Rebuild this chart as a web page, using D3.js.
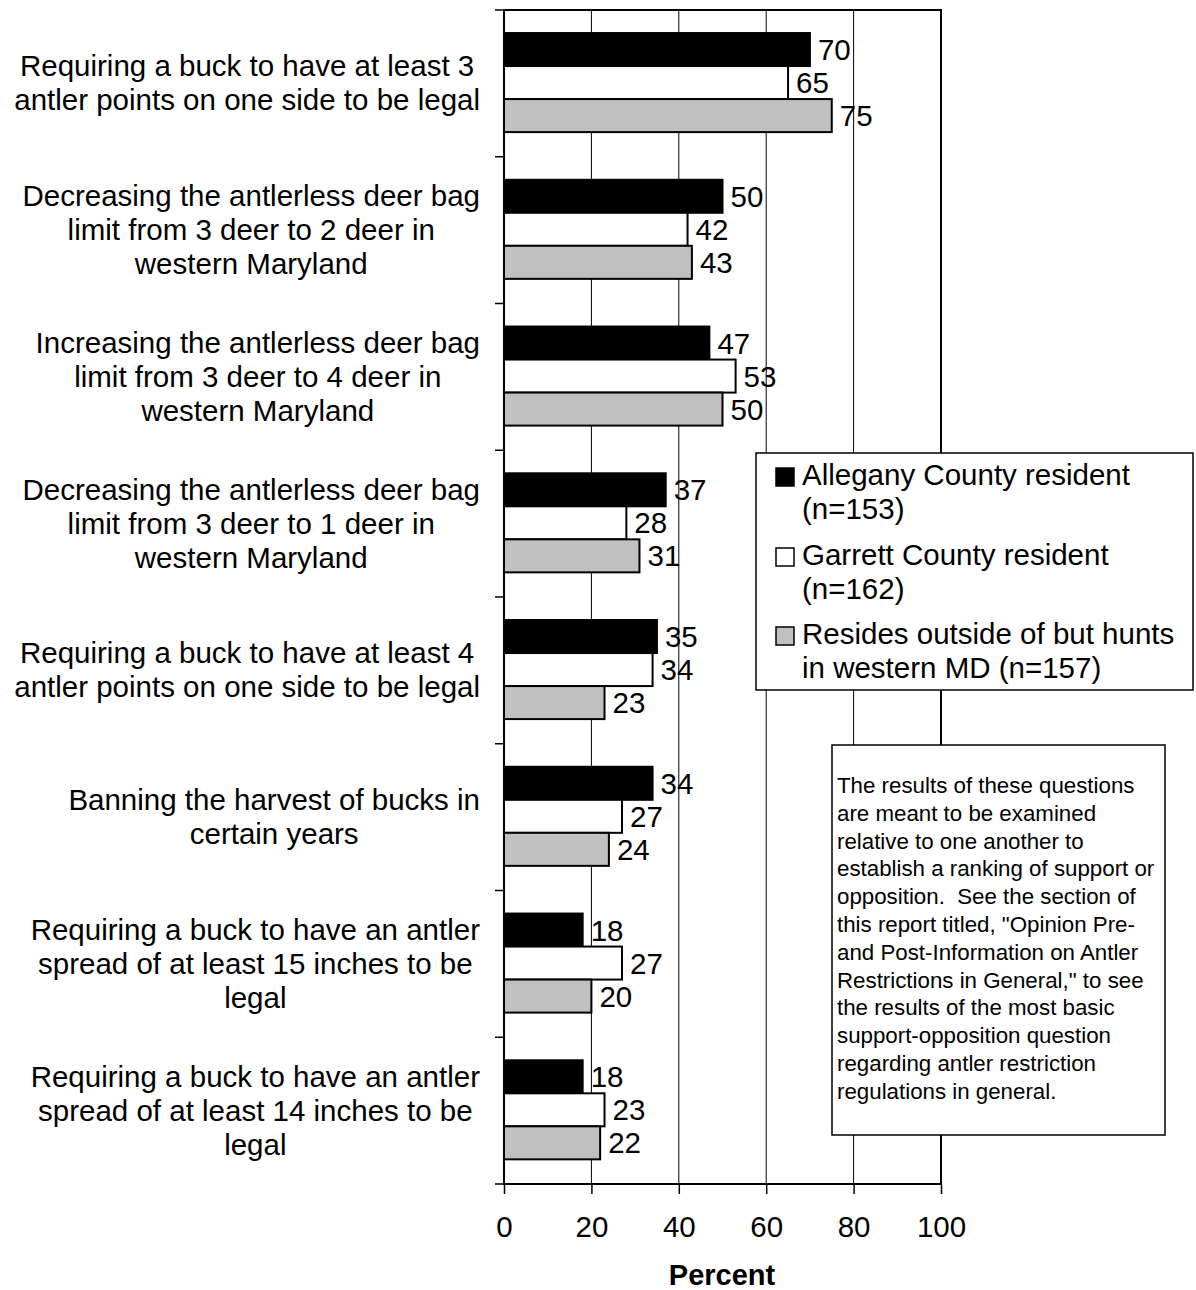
<!DOCTYPE html>
<html>
<head>
    <meta charset="utf-8">
    <title>Antler restriction options</title>
    <script src="https://d3js.org/d3.v7.min.js"></script>
    <style>
        body { margin: 0; background: #fff; }
        text { font-family: "Liberation Sans", Arial, sans-serif; fill: #000; }
    </style>
</head>
<body>
    <script>
        // categories (one entry per line of the label)
        const categories = [
            ["Requiring a buck to have at least 3", "antler points on one side to be legal"],
            ["Decreasing the antlerless deer bag", "limit from 3 deer to 2 deer in", "western Maryland"],
            ["Increasing the antlerless deer bag", "limit from 3 deer to 4 deer in", "western Maryland"],
            ["Decreasing the antlerless deer bag", "limit from 3 deer to 1 deer in", "western Maryland"],
            ["Requiring a buck to have at least 4", "antler points on one side to be legal"],
            ["Banning the harvest of bucks in", "certain years"],
            ["Requiring a buck to have an antler", "spread of at least 15 inches to be", "legal"],
            ["Requiring a buck to have an antler", "spread of at least 14 inches to be", "legal"]
        ];
        const seriesNames = [
            ["Allegany County resident", "(n=153)"],
            ["Garrett County resident", "(n=162)"],
            ["Resides outside of but hunts", "in western MD (n=157)"]
        ];
        const allegany = [70, 50, 47, 37, 35, 34, 18, 18];
        const garrett = [65, 42, 53, 28, 34, 27, 27, 23];
        const outside = [75, 43, 50, 31, 23, 24, 20, 22];
        const xTicks = [0, 20, 40, 60, 80, 100];
        const noteLines = [
            "The results of these questions",
            "are meant to be examined",
            "relative to one another to",
            "establish a ranking of support or",
            "opposition.  See the section of",
            "this report titled, \"Opinion Pre-",
            "and Post-Information on Antler",
            "Restrictions in General,\" to see",
            "the results of the most basic",
            "support-opposition question",
            "regarding antler restriction",
            "regulations in general."
        ];

        const colors = ["#000000", "#ffffff", "#c0c0c0"];
        const series = [allegany, garrett, outside];

        const width = 1196;
        const height = 1290;
        const plot = { left: 504, right: 941, top: 10, bottom: 1184 };
        const fs = 29.5;

        const svg = d3.select("body").append("svg")
            .attr("width", width)
            .attr("height", height);

        const x = d3.scaleLinear()
            .domain([0, 100])
            .range([plot.left, plot.right]);

        const y = d3.scaleBand()
            .domain(d3.range(categories.length))
            .range([plot.top, plot.bottom]);

        const inner = d3.scaleBand()
            .domain(d3.range(series.length))
            .range([y.bandwidth() * 0.157, y.bandwidth() * 0.832]);

        // gridlines
        svg.append("g")
            .selectAll("line")
            .data(xTicks.slice(1, -1))
            .join("line")
            .attr("x1", d => x(d)).attr("x2", d => x(d))
            .attr("y1", plot.top).attr("y2", plot.bottom)
            .attr("stroke", "#000")
            .attr("stroke-width", 1);

        // bars
        const groups = svg.append("g")
            .selectAll("g")
            .data(categories)
            .join("g")
            .attr("transform", (d, i) => `translate(0,${y(i)})`);

        groups.each(function (c, i) {
            const g = d3.select(this);
            series.forEach((s, k) => {
                g.append("rect")
                    .attr("x", x(0))
                    .attr("y", inner(k))
                    .attr("width", x(s[i]) - x(0))
                    .attr("height", inner.bandwidth())
                    .attr("fill", colors[k])
                    .attr("stroke", "#000")
                    .attr("stroke-width", 2);
                g.append("text")
                    .attr("x", x(s[i]) + 8)
                    .attr("y", inner(k) + inner.bandwidth() / 2)
                    .attr("dy", "0.36em")
                    .attr("font-size", fs)
                    .text(s[i]);
            });
        });

        // frame
        svg.append("rect")
            .attr("x", plot.left).attr("y", plot.top)
            .attr("width", plot.right - plot.left)
            .attr("height", plot.bottom - plot.top)
            .attr("fill", "none")
            .attr("stroke", "#000")
            .attr("stroke-width", 2);

        // x axis
        const xAxis = svg.append("g")
            .attr("transform", `translate(0,${plot.bottom})`)
            .call(d3.axisBottom(x).tickValues(xTicks).tickSize(10).tickPadding(22));
        xAxis.select(".domain").remove();
        xAxis.selectAll("line").attr("stroke", "#000").attr("stroke-width", 1.5);
        xAxis.selectAll("text")
            .attr("font-size", fs)
            .attr("font-family", "'Liberation Sans', Arial, sans-serif");

        // y axis ticks at category boundaries
        const bounds = d3.range(categories.length + 1).map(i => plot.top + i * y.step());
        svg.append("g")
            .selectAll("line")
            .data(bounds)
            .join("line")
            .attr("x1", plot.left - 9).attr("x2", plot.left)
            .attr("y1", d => d).attr("y2", d => d)
            .attr("stroke", "#000")
            .attr("stroke-width", 1.5);

        // category labels: centered lines, block right edge at 480
        const lineH = 34;
        categories.forEach((lines, i) => {
            const cy = y(i) + y.bandwidth() / 2;
            const t = svg.append("text")
                .attr("font-size", fs)
                .attr("text-anchor", "middle");
            lines.forEach((ln, j) => {
                t.append("tspan")
                    .attr("y", cy - (lines.length - 1) * lineH / 2 + j * lineH + 10)
                    .text(ln);
            });
            let maxW = 0;
            t.selectAll("tspan").each(function () {
                maxW = Math.max(maxW, this.getComputedTextLength());
            });
            t.selectAll("tspan").attr("x", 480 - maxW / 2);
        });

        // axis title
        svg.append("text")
            .attr("x", 722).attr("y", 1285)
            .attr("text-anchor", "middle")
            .attr("font-size", 29)
            .attr("font-weight", "bold")
            .text("Percent");

        // legend
        const legend = svg.append("g");
        legend.append("rect")
            .attr("x", 756).attr("y", 453)
            .attr("width", 437).attr("height", 237)
            .attr("fill", "#fff")
            .attr("stroke", "#000")
            .attr("stroke-width", 1.5);
        const itemY = [485, 565, 644];
        seriesNames.forEach((lines, k) => {
            legend.append("rect")
                .attr("x", 776).attr("y", itemY[k] - 17)
                .attr("width", 18).attr("height", 18)
                .attr("fill", colors[k])
                .attr("stroke", "#000")
                .attr("stroke-width", 1.5);
            const t = legend.append("text").attr("font-size", fs);
            lines.forEach((ln, j) => {
                t.append("tspan")
                    .attr("x", 802)
                    .attr("y", itemY[k] + j * 34)
                    .text(ln);
            });
        });

        // note box
        const note = svg.append("g");
        note.append("rect")
            .attr("x", 832).attr("y", 745)
            .attr("width", 333).attr("height", 390)
            .attr("fill", "#fff")
            .attr("stroke", "#000")
            .attr("stroke-width", 1.5);
        const nt = note.append("text").attr("font-size", 22.3);
        noteLines.forEach((ln, j) => {
            nt.append("tspan")
                .attr("x", 837)
                .attr("y", 793 + j * 27.8)
                .style("white-space", "pre")
                .text(ln);
        });
    </script>
</body>
</html>
